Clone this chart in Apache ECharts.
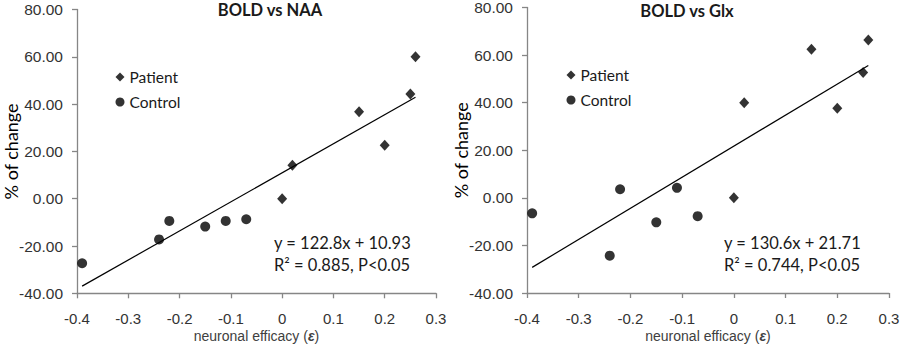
<!DOCTYPE html>
<html>
<head>
<meta charset="utf-8">
<script src="https://cdn.jsdelivr.net/npm/echarts@6/dist/echarts.min.js"></script>
<style>
html,body{margin:0;padding:0;background:#fff;}
#chart{width:902px;height:348px;}
</style>
</head>
<body>
<div id="chart"></div>
<script>
// ---- data ----
const xTicks = [-0.4, -0.3, -0.2, -0.1, 0, 0.1, 0.2, 0.3];
const xTickLabels = ['-0.4', '-0.3', '-0.2', '-0.1', '0', '0.1', '0.2', '0.3'];
const yTicks = [-40, -20, 0, 20, 40, 60, 80];
const yTickLabels = ['-40.00', '-20.00', '0.00', '20.00', '40.00', '60.00', '80.00'];

const seriesNames = ['Patient', 'Control'];
const panelTitles = ['BOLD vs NAA', 'BOLD vs Glx'];

const patientX = [0, 0.02, 0.15, 0.20, 0.25, 0.26];
const controlX = [-0.39, -0.24, -0.22, -0.15, -0.11, -0.07];

const naaPatientY = [0, 14.1, 36.8, 22.6, 44.3, 60.0];
const naaControlY = [-27.3, -17.2, -9.4, -11.8, -9.4, -8.7];
const glxPatientY = [0, 40.0, 62.5, 37.7, 52.7, 66.3];
const glxControlY = [-6.5, -24.3, 3.6, -10.3, 4.2, -7.7];

const naaFit = [122.8, 10.93];   // slope, intercept
const glxFit = [130.6, 21.71];
const fitRange = [-0.39, 0.26];

const naaEquation = ['y = 122.8x + 10.93', 'R² = 0.885, P<0.05'];
const glxEquation = ['y = 130.6x + 21.71', 'R² = 0.744, P<0.05'];

// ---- chart ----
const TICK_FONT = '"Liberation Sans", Arial, sans-serif';
const CAL_FONT = 'Lato, "Open Sans", sans-serif';

function pairs(xs, ys) { return xs.map((x, i) => [x, ys[i]]); }
function fitLine(fit) { return fitRange.map(x => [x, fit[0] * x + fit[1]]); }
function xFmt(v) { const i = xTicks.findIndex(t => Math.abs(t - v) < 1e-6); return i >= 0 ? xTickLabels[i] : ''; }
function yFmt(v) { const i = yTicks.findIndex(t => Math.abs(t - v) < 1e-6); return i >= 0 ? yTickLabels[i] : ''; }

const grids = [
  { left: 77, right: 466, top: 9.5, bottom: 54.7, containLabel: false, outerBoundsMode: 'none' },
  { left: 527, right: 13, top: 7.5, bottom: 55, containLabel: false, outerBoundsMode: 'none' }
];

function xAxis(gi) {
  return {
    gridIndex: gi, type: 'value', min: -0.4, max: 0.3, interval: 0.1,
    name: 'neuronal efficacy ({e|ε})', nameLocation: 'middle', nameGap: 36, nameMoveOverlap: false,
    nameTextStyle: { fontFamily: TICK_FONT, fontSize: 14, color: '#404040',
      rich: { e: { fontFamily: TICK_FONT, fontSize: 14, fontStyle: 'italic', fontWeight: 'bold', color: '#404040' } } },
    axisLine: { show: true, onZero: false, lineStyle: { color: '#868686', width: 1.3 } },
    axisTick: { show: true, length: 5, lineStyle: { color: '#868686', width: 1.3 } },
    axisLabel: { formatter: xFmt, fontFamily: TICK_FONT, fontSize: 15, color: '#333', margin: 18 },
    splitLine: { show: false }
  };
}
function yAxis(gi) {
  return {
    gridIndex: gi, type: 'value', min: -40, max: 80, interval: 20,
    name: '% of change', nameLocation: 'middle', nameGap: 57, nameRotate: 90, nameMoveOverlap: false,
    nameTextStyle: { fontFamily: CAL_FONT, fontSize: 18, color: '#000' },
    axisLine: { show: true, onZero: false, lineStyle: { color: '#868686', width: 1.3 } },
    axisTick: { show: true, length: 5, lineStyle: { color: '#868686', width: 1.3 } },
    axisLabel: { formatter: yFmt, fontFamily: TICK_FONT, fontSize: 15.5, color: '#333', margin: 14 },
    splitLine: { show: false }
  };
}

function scatter(name, gi, data, symbol, size) {
  return {
    type: 'scatter', name: name, xAxisIndex: gi, yAxisIndex: gi, data: data,
    symbol: symbol, symbolSize: size, itemStyle: { color: '#000' }, silent: true
  };
}
function trend(gi, fit) {
  return {
    type: 'line', name: 'trend' + gi, xAxisIndex: gi, yAxisIndex: gi, data: fitLine(fit),
    showSymbol: false, symbol: 'none', lineStyle: { color: '#000', width: 1.2 }, silent: true, z: 1
  };
}
function legend(left, top) {
  return {
    orient: 'vertical', left: left, top: top, itemWidth: 9, itemHeight: 9, itemGap: 9,
    selectedMode: false,
    textStyle: { fontFamily: CAL_FONT, fontSize: 15.5, color: '#1a1a1a' },
    data: [{ name: seriesNames[0], icon: 'diamond' }, { name: seriesNames[1], icon: 'circle' }]
  };
}
function txt(x, y, s, font, align) {
  return { type: 'text', x: x, y: y, style: { text: s, font: font, fill: '#1a1a1a', textAlign: align || 'left', textVerticalAlign: 'middle' } };
}

const chart = echarts.init(document.getElementById('chart'), null, { renderer: 'svg' });
chart.setOption({
  animation: false,
  backgroundColor: '#fff',
  grid: grids,
  xAxis: [xAxis(0), xAxis(1)],
  yAxis: [yAxis(0), yAxis(1)],
  legend: [legend(110.5, 64), legend(561.5, 62)],
  series: [
    trend(0, naaFit),
    scatter(seriesNames[0], 0, pairs(patientX, naaPatientY), 'diamond', [10, 11]),
    scatter(seriesNames[1], 0, pairs(controlX, naaControlY), 'circle', 10),
    trend(1, glxFit),
    scatter(seriesNames[0], 1, pairs(patientX, glxPatientY), 'diamond', [10, 11]),
    scatter(seriesNames[1], 1, pairs(controlX, glxControlY), 'circle', 10)
  ],
  graphic: [
    txt(270, 10, panelTitles[0], 'bold 16.5px ' + CAL_FONT, 'center'),
    txt(687, 11, panelTitles[1], 'bold 16.5px ' + CAL_FONT, 'center'),
    txt(274, 243, naaEquation[0], '16.5px ' + CAL_FONT),
    txt(274, 265, naaEquation[1], '16.5px ' + CAL_FONT),
    txt(724, 243, glxEquation[0], '16.5px ' + CAL_FONT),
    txt(724, 265, glxEquation[1], '16.5px ' + CAL_FONT)
  ]
});
</script>
</body>
</html>
